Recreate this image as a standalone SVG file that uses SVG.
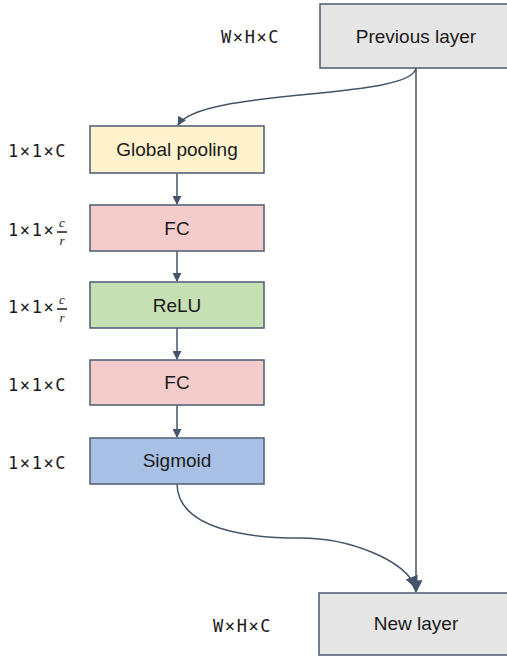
<svg xmlns="http://www.w3.org/2000/svg" width="507" height="658" viewBox="0 0 507 658">
<defs>
<style>
.box{stroke:#55657a;stroke-width:1.6}
.lbl{font-family:"Liberation Sans",Arial,sans-serif;font-size:19px;fill:#1a1a1a;text-anchor:middle}
.dim{font-family:"DejaVu Sans Mono",monospace;font-size:17px;fill:#1a1a1a;letter-spacing:1.6px}
.frac{font-family:"Liberation Serif",serif;font-style:italic;font-size:13px;fill:#1a1a1a;text-anchor:middle}
.con{fill:none;stroke:#44546a;stroke-width:1.5}
</style>
<marker id="ah" viewBox="0 0 10 10" refX="9" refY="5" markerWidth="9" markerHeight="9" markerUnits="userSpaceOnUse" orient="auto">
<path d="M0,0 L10,5 L0,10 z" fill="#44546a"/>
</marker>
<marker id="ahb" viewBox="0 0 10 10" refX="9" refY="5" markerWidth="13" markerHeight="13" markerUnits="userSpaceOnUse" orient="auto">
<path d="M0,0 L10,5 L0,10 z" fill="#44546a"/>
</marker>
</defs>
<rect width="507" height="658" fill="#ffffff"/>
<g id="connectors">
<path class="con" d="M416,68 C412,100 200,88 178,125" marker-end="url(#ah)"/>
<line class="con" x1="177" y1="173" x2="177" y2="204" marker-end="url(#ah)"/>
<line class="con" x1="177" y1="251" x2="177" y2="281" marker-end="url(#ah)"/>
<line class="con" x1="177" y1="328" x2="177" y2="359" marker-end="url(#ah)"/>
<line class="con" x1="177" y1="405" x2="177" y2="437" marker-end="url(#ah)"/>
<line class="con" x1="416" y1="68" x2="416" y2="592" marker-end="url(#ahb)"/>
<path class="con" d="M177,484 C178,530 250,538 300,538 C350,538 405,560 416,588" marker-end="url(#ahb)"/>
</g>
<g id="prev">
<rect class="box" x="320" y="4" width="192" height="64" fill="#e7e6e6"/>
<text class="lbl" x="416" y="43">Previous layer</text>
<text class="dim" x="221" y="43">W×H×C</text>
</g>
<g id="pool">
<rect class="box" x="90" y="126" width="174" height="47" fill="#fff2cc"/>
<text class="lbl" x="177" y="156">Global pooling</text>
<text class="dim" x="8" y="157">1×1×C</text>
</g>
<g id="fc1">
<rect class="box" x="90" y="205" width="174" height="46" fill="#f4cccc"/>
<text class="lbl" x="177" y="235">FC</text>
<text class="dim" x="8" y="236">1×1×</text>
<text class="frac" x="62" y="227">c</text>
<line x1="57" y1="232" x2="67" y2="232" stroke="#1a1a1a" stroke-width="1.5"/>
<text class="frac" x="62" y="245">r</text>
</g>
<g id="relu">
<rect class="box" x="90" y="282" width="174" height="46" fill="#c6e0b4"/>
<text class="lbl" x="177" y="312">ReLU</text>
<text class="dim" x="8" y="313">1×1×</text>
<text class="frac" x="62" y="304">c</text>
<line x1="57" y1="309" x2="67" y2="309" stroke="#1a1a1a" stroke-width="1.5"/>
<text class="frac" x="62" y="322">r</text>
</g>
<g id="fc2">
<rect class="box" x="90" y="360" width="174" height="45" fill="#f4cccc"/>
<text class="lbl" x="177" y="389">FC</text>
<text class="dim" x="8" y="391">1×1×C</text>
</g>
<g id="sigmoid">
<rect class="box" x="90" y="438" width="174" height="46" fill="#a9c0e5"/>
<text class="lbl" x="177" y="467">Sigmoid</text>
<text class="dim" x="8" y="469">1×1×C</text>
</g>
<g id="new">
<rect class="box" x="319" y="593" width="193" height="62" fill="#e7e6e6"/>
<text class="lbl" x="416" y="630">New layer</text>
<text class="dim" x="213" y="632">W×H×C</text>
</g>
</svg>
